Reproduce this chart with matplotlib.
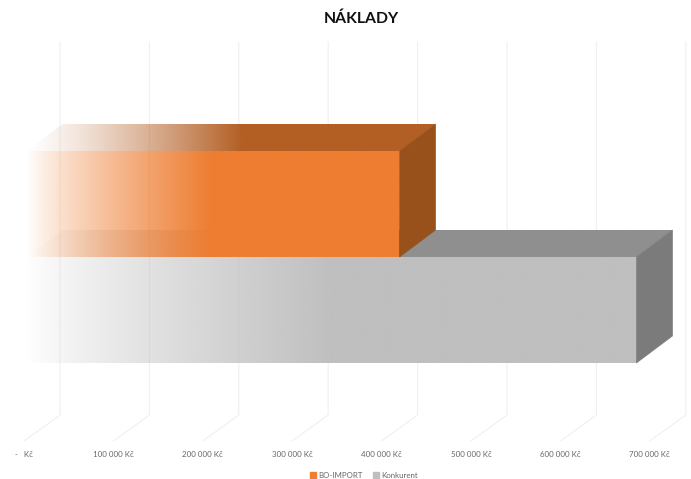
import matplotlib
matplotlib.use("Agg")
import matplotlib.pyplot as plt
import numpy as np
from matplotlib.colors import to_rgb
from matplotlib.patches import Patch, Polygon

plt.rcParams['font.family'] = ['Lato', 'DejaVu Sans']

kategorie = ["Konkurent", "BO-IMPORT"]
naklady = [685000, 420000]
barvy_predni = ["#bfbfbf", "#ee7d31"]
barvy_horni = ["#8f8f8f", "#b35f24"]
barvy_bocni = ["#7b7b7b", "#98511b"]
konec_prechodu = [345000, 208000]

osa_hodnoty = [0, 100000, 200000, 300000, 400000, 500000, 600000, 700000]
popisky = ["-   Kč", "100 000 Kč", "200 000 Kč", "300 000 Kč", "400 000 Kč",
           "500 000 Kč", "600 000 Kč", "700 000 Kč"]

# meritko v pixelech obrazku
px_x = 89.4 / 100000
px_y = 106.0
hloubka_x = 36 / px_x
hloubka_y = 27 / px_y
x0 = -24 / px_x
x1 = (691 - 24) / px_x
y0 = (310 - 441) / px_y
y1 = 310 / px_y
steny_hloubka_y = 26 / px_y
steny_vyska = 373 / px_y


def prechod(ax, body, barva, zacatek, konec, mocnina, z):
    # vodorovny prechod z pruhledne do plne barvy, oriznuty na plochu
    xs = [p[0] for p in body]
    ys = [p[1] for p in body]
    sloupce = np.linspace(min(xs), max(xs), 1024)
    obr = np.zeros((1, 1024, 4))
    obr[0, :, :3] = to_rgb(barva)
    obr[0, :, 3] = np.clip((sloupce - zacatek) / (konec - zacatek), 0, 1) ** mocnina
    plocha = Polygon(body, closed=True, fc="none", ec="none", transform=ax.transData)
    ax.add_patch(plocha)
    img = ax.imshow(obr, extent=(min(xs), max(xs), min(ys), max(ys)), aspect="auto",
                    zorder=z, interpolation="bilinear", origin="lower")
    img.set_clip_path(plocha)


fig = plt.figure(figsize=(6.91, 4.79), dpi=100)
ax = fig.add_axes([0, 38 / 479, 1, 441 / 479])

# mrizka: zadni stena a sikme cary na podlaze
for h in osa_hodnoty:
    ax.plot([h, h + hloubka_x, h + hloubka_x],
            [y0, y0 + steny_hloubka_y, y0 + steny_hloubka_y + steny_vyska],
            color="#f0f0f0", lw=0.8, zorder=1)

for i in range(len(kategorie)):
    v = naklady[i]
    dole = i - 0.5
    nahore = i + 0.5
    z = 2 + i * 2
    start = 3000
    # horni stena
    horni = [(start, nahore), (v, nahore), (v + hloubka_x, nahore + hloubka_y),
             (start + hloubka_x, nahore + hloubka_y)]
    prechod(ax, horni, barvy_horni[i], start, konec_prechodu[i] + 35000, 1.25, z)
    # bocni stena
    ax.add_patch(Polygon([(v, dole), (v + hloubka_x, dole + hloubka_y),
                          (v + hloubka_x, nahore + hloubka_y), (v, nahore)],
                         closed=True, fc=barvy_bocni[i], ec=barvy_bocni[i], lw=0.5, zorder=z))
    # predni stena
    predni = [(start, dole), (v, dole), (v, nahore), (start, nahore)]
    prechod(ax, predni, barvy_predni[i], start, konec_prechodu[i], 0.85, z + 1)

ax.set_xlim(x0, x1)
ax.set_ylim(y0, y1)
ax.set_xticks(osa_hodnoty)
ax.set_xticklabels(popisky, fontsize=5.7, color="#666666")
ax.tick_params(axis="x", length=0, pad=7.5)
ax.set_yticks([])
for s in ax.spines.values():
    s.set_visible(False)

fig.text(361 / 691, 1 - 19 / 479, "NÁKLADY", ha="center", va="center", fontsize=11.3,
         fontweight="bold", color="#111111")

fig.legend(handles=[Patch(color=barvy_predni[1], label=kategorie[1]),
                    Patch(color=barvy_predni[0], label=kategorie[0])],
           loc="center", bbox_to_anchor=(364 / 691, 1 - 475.5 / 479), ncol=2, frameon=False,
           fontsize=5.7, labelcolor="#666666", handlelength=0.7, handleheight=0.7,
           handletextpad=0.35, columnspacing=1.3, borderpad=0)

fig.savefig("out.png", dpi=100)
